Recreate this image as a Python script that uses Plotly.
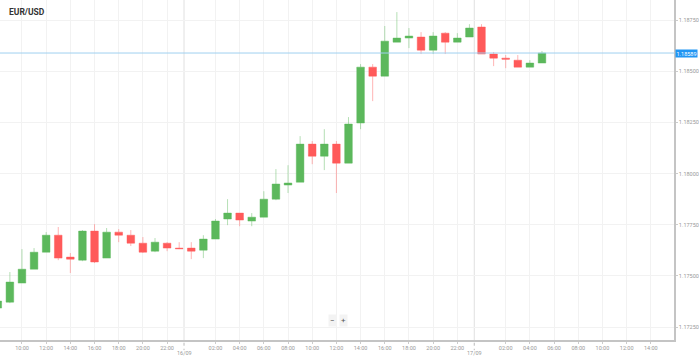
import plotly.graph_objects as go
import pandas as pd

# hourly candles, 15/09 08:00 -> 17/09 05:00
start = "2020-09-15 08:00"
opens = [1.17343, 1.17372, 1.17465, 1.17533, 1.17616, 1.17699, 1.17592, 1.17577, 1.17719, 1.17587,
         1.17714, 1.17699, 1.17660, 1.17621, 1.17660, 1.17636, 1.17636, 1.17626, 1.17680, 1.17778,
         1.17807, 1.17768, 1.17787, 1.17875, 1.17944, 1.17958, 1.18144, 1.18085, 1.18144, 1.18051,
         1.18247, 1.18520, 1.18476, 1.18642, 1.18662, 1.18667, 1.18603, 1.18686, 1.18642, 1.18667,
         1.18716, 1.18584, 1.18564, 1.18554, 1.18520, 1.18540]
highs = [1.17397, 1.17519, 1.17631, 1.17636, 1.17714, 1.17739, 1.17612, 1.17724, 1.17753, 1.17734,
         1.17729, 1.17724, 1.17690, 1.17685, 1.17665, 1.17665, 1.17665, 1.17699, 1.17778, 1.17875,
         1.17807, 1.17807, 1.17914, 1.18022, 1.18041, 1.18183, 1.18159, 1.18217, 1.18159, 1.18276,
         1.18535, 1.18535, 1.18721, 1.18789, 1.18711, 1.18691, 1.18691, 1.18691, 1.18686, 1.18730,
         1.18730, 1.18594, 1.18579, 1.18579, 1.18554, 1.18599]
lows = [1.17333, 1.17367, 1.17465, 1.17533, 1.17616, 1.17577, 1.17514, 1.17572, 1.17563, 1.17587,
        1.17665, 1.17646, 1.17612, 1.17616, 1.17621, 1.17631, 1.17582, 1.17587, 1.17680, 1.17748,
        1.17743, 1.17743, 1.17787, 1.17870, 1.17905, 1.17958, 1.18046, 1.18017, 1.17905, 1.18051,
        1.18217, 1.18354, 1.18476, 1.18642, 1.18613, 1.18584, 1.18584, 1.18584, 1.18642, 1.18667,
        1.18584, 1.18525, 1.18515, 1.18520, 1.18520, 1.18540]
closes = [1.17377, 1.17470, 1.17533, 1.17616, 1.17699, 1.17587, 1.17582, 1.17719, 1.17568, 1.17714,
          1.17699, 1.17660, 1.17616, 1.17665, 1.17636, 1.17633, 1.17621, 1.17680, 1.17768, 1.17807,
          1.17773, 1.17787, 1.17875, 1.17949, 1.17954, 1.18144, 1.18085, 1.18144, 1.18051, 1.18242,
          1.18520, 1.18476, 1.18647, 1.18662, 1.18672, 1.18603, 1.18672, 1.18642, 1.18662, 1.18711,
          1.18584, 1.18564, 1.18559, 1.18520, 1.18540, 1.18589]
times = pd.date_range(start, periods=len(opens), freq="h")

last_price = 1.18589
y_ticks = [1.17250, 1.17500, 1.17750, 1.18000, 1.18250, 1.18500, 1.18750]
hour_ticks = ["2020-09-15 10:00", "2020-09-15 12:00", "2020-09-15 14:00", "2020-09-15 16:00",
              "2020-09-15 18:00", "2020-09-15 20:00", "2020-09-15 22:00",
              "2020-09-16 02:00", "2020-09-16 04:00", "2020-09-16 06:00", "2020-09-16 08:00",
              "2020-09-16 10:00", "2020-09-16 12:00", "2020-09-16 14:00", "2020-09-16 16:00",
              "2020-09-16 18:00", "2020-09-16 20:00", "2020-09-16 22:00",
              "2020-09-17 02:00", "2020-09-17 04:00", "2020-09-17 06:00", "2020-09-17 08:00",
              "2020-09-17 10:00", "2020-09-17 12:00", "2020-09-17 14:00"]
hour_labels = [t[-5:] for t in hour_ticks]
date_pos = ["2020-09-15 23:24", "2020-09-16 23:24"]
date_labels = ["16/09", "17/09"]

fig = go.Figure()
fig.add_trace(go.Candlestick(
    x=times, open=opens, high=highs, low=lows, close=closes,
    increasing=dict(fillcolor="#5cb85c", line=dict(color="rgba(92,184,92,0.45)", width=1)),
    decreasing=dict(fillcolor="#ff5a5a", line=dict(color="rgba(255,90,90,0.45)", width=1)),
    whiskerwidth=0, showlegend=False, hoverinfo="skip",
))

shapes = []
for d in date_pos:
    shapes.append(dict(type="line", xref="x", yref="paper", x0=d, x1=d, y0=0, y1=1,
                       line=dict(color="#e0e0e0", width=1), layer="below"))
    shapes.append(dict(type="line", xref="x", yref="paper", x0=d, x1=d, y0=-0.008, y1=-0.03,
                       line=dict(color="#bbbbbb", width=1, dash="dot")))
shapes.append(dict(type="line", xref="paper", yref="y", x0=0, x1=1, y0=last_price, y1=last_price,
                   line=dict(color="#9fd0f0", width=1)))

annotations = [
    dict(text="<b>EUR/USD</b>", xref="paper", yref="paper", x=0.011, y=0.965, xanchor="left",
         yanchor="middle", showarrow=False, font=dict(size=8.5, color="#333333", family="Roboto")),
    dict(text=f"{last_price:.5f}", xref="paper", yref="y", x=1.0, y=last_price, xanchor="left",
         yanchor="middle", xshift=1, showarrow=False, bgcolor="#2196f3", borderpad=0.5,
         font=dict(size=5.5, color="white", family="Roboto")),
    dict(text="−", xref="paper", yref="paper", x=0.493, y=0.058, yanchor="middle", showarrow=False,
         bgcolor="#f3f3f3", borderpad=1, font=dict(size=8, color="#555555")),
    dict(text="+", xref="paper", yref="paper", x=0.509, y=0.058, yanchor="middle", showarrow=False,
         bgcolor="#f3f3f3", borderpad=1, font=dict(size=8, color="#555555")),
]
for d, lab in zip(date_pos, date_labels):
    annotations.append(dict(text=lab, xref="x", yref="paper", x=d, y=-0.038, yanchor="middle",
                            showarrow=False, font=dict(size=5.5, color="#999999", family="Roboto")))

fig.update_layout(
    width=699, height=359,
    margin=dict(l=0, r=23, t=0, b=19),
    paper_bgcolor="white", plot_bgcolor="white",
    font=dict(family="Roboto", size=6, color="#999999"),
    shapes=shapes, annotations=annotations,
    boxgap=0.1,
    xaxis=dict(
        type="date", range=["2020-09-15 08:11", "2020-09-17 15:55"],
        rangeslider=dict(visible=False),
        tickvals=hour_ticks, ticktext=hour_labels,
        tickfont=dict(size=5.5, color="#999999"),
        showgrid=True, gridcolor="#f2f2f2", gridwidth=1,
        showline=True, linecolor="#c4c4c4", linewidth=1.5,
        ticks="outside", ticklen=2, tickcolor="#cccccc", zeroline=False,
    ),
    yaxis=dict(
        side="right", range=[1.17187, 1.18848],
        tickvals=y_ticks, tickformat=".5f",
        tickfont=dict(size=5.5, color="#999999"),
        showgrid=True, gridcolor="#f2f2f2", gridwidth=1,
        showline=True, linecolor="#c4c4c4", linewidth=1.5,
        ticks="outside", ticklen=2, tickcolor="#cccccc", zeroline=False,
    ),
)

fig.write_html("out.html", config={"displayModeBar": False},
               post_script="document.body.style.margin='0';")
